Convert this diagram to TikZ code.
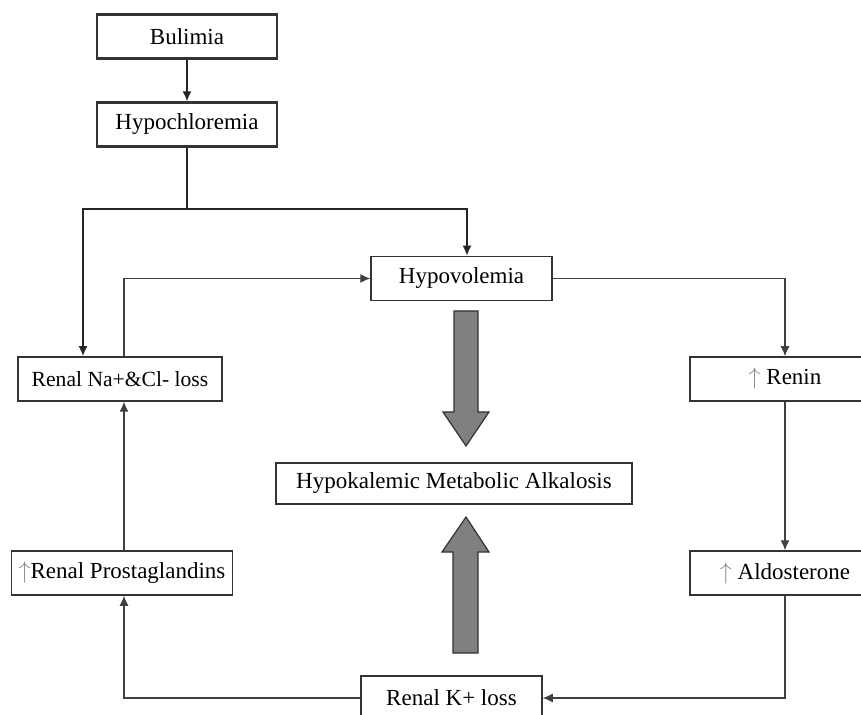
\documentclass[tikz,border=0pt]{standalone}
\usepackage{fontspec}
\setmainfont{Liberation Serif}
\usetikzlibrary{arrows.meta}
\newcommand{\upMark}{\textcolor{black!45}{$\uparrow$}}

\begin{document}
\begin{tikzpicture}[x=0.5pt,y=-0.5pt]
	\tikzset{box/.style = {rectangle,draw=black!80,line width=0.75pt,fill=white,minimum height=22pt,inner sep=0pt,font=\fontsize{11.5}{13}\selectfont}}
	\tikzstyle{topBox} = [box, line width=1.1pt, minimum width=90pt]
	\tikzstyle{edge} = [-{Latex[length=5pt,width=4.5pt]},draw=black!75,line width=0.6pt]
	\tikzstyle{edgeThick} = [edge, draw=black!85, line width=0.9pt]
	\tikzstyle{plain} = [draw=black!85,line width=0.9pt]
	\tikzstyle{bigArrow} = [draw=black!80,line width=0.6pt,fill=black!50]
	\useasboundingbox (0,0) rectangle (861,715);
	\clip (0,0) rectangle (861,715);
	\fill[white] (0,0) rectangle (861,715);
	%top
	\node[topBox] (bulimia) at (187,36.5) {Bulimia};
	\node[topBox] (hypochl) at (187,124.5) {Hypochloremia};
	\coordinate (split) at (187,209);
	%middle
	\node[box,minimum width=90.5pt] (hypovol) at (461.5,278.5) {Hypovolemia};
	\node[box,minimum width=178pt,minimum height=20.5pt] (hypoK) at (454,483.5) {Hypokalemic Metabolic Alkalosis};
	\node[box,minimum width=90.5pt] (renalK) at (451.5,698) {Renal K+ loss};
	%left
	\node[box,minimum width=102pt,font=\fontsize{10.8}{13}\selectfont] (renalNa) at (120,379) {Renal Na+\&Cl- loss};
	\node[box,minimum width=110.5pt] (prosta) at (122,573) {\upMark Renal Prostaglandins};
	%right
	\node[box,minimum width=95pt] (renin) at (785,379) {\upMark\ Renin};
	\node[box,minimum width=95pt] (aldo) at (785,573) {\upMark\ Aldosterone};
	%arrows
	\draw[edgeThick] (bulimia) -- (hypochl);
	\draw[plain] (hypochl.south) -- (split);
	\draw[edgeThick] (split) -| ([xshift=2.75pt]hypovol.north);
	\draw[edgeThick] (split) -| ([xshift=-18.5pt]renalNa.north);
	\draw[edge] ([xshift=2pt]renalNa.north) |- (hypovol.west);
	\draw[edge] (hypovol.east) -| (renin.north);
	\draw[edge] (renin) -- (aldo);
	\draw[edge] (aldo.south) |- (renalK.east);
	\draw[edge] (renalK.west) -| ([xshift=1pt]prosta.south);
	\draw[edge] ([xshift=1pt]prosta.north) -- ([xshift=2pt]renalNa.south);
	%big arrows
	\draw[bigArrow] (454,311) -- (478,311) -- (478,412) -- (489,412) -- (466,446) -- (443,412) -- (454,412) -- cycle;
	\draw[bigArrow] (453,653) -- (478,653) -- (478,552) -- (489,552) -- (466,517) -- (442,552) -- (453,552) -- cycle;
\end{tikzpicture}
\end{document}
